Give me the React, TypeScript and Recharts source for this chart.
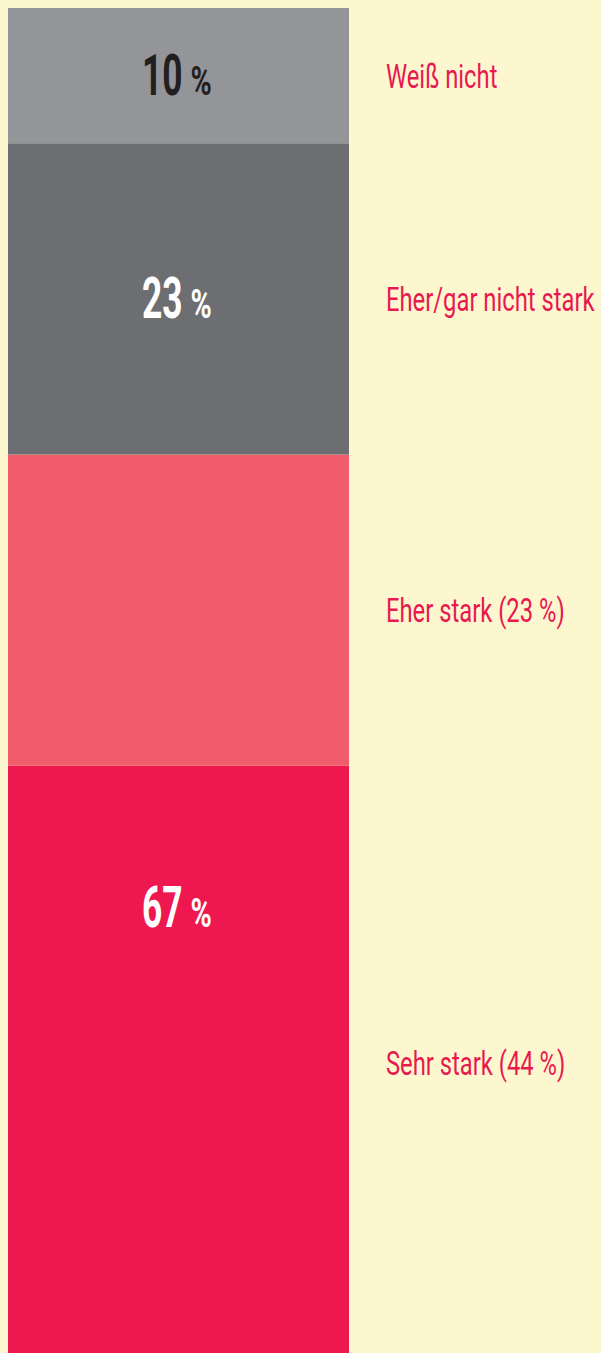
import { BarChart, Bar, XAxis, YAxis, LabelList } from 'recharts';

// segments, bottom to top
const segmentKeys = ['sehr', 'eher', 'nicht', 'weiss'];
const segmentLabels = ['Sehr stark (44 %)', 'Eher stark (23 %)', 'Eher/gar nicht stark', 'Weiß nicht'];
const segmentValues = [44, 23, 23, 10];
const segmentColors = ['#ee174f', '#f05c6b', '#6d6e72', '#949598'];

// big numbers inside the bar, bottom to top
const totalKeys = ['tStark', 'tNicht', 'tWeiss'];
const totalLabels = ['67', '23', '10'];
const totalValues = [67, 23, 10];
const totalColors = ['#ffffff', '#ffffff', '#231f20'];

const FONT = 'Roboto, sans-serif';
const RED = '#e8194f';

const row: { [key: string]: string | number } = { name: 'Stärke' };
segmentKeys.forEach((k, i) => {
  row[k] = segmentValues[i];
});
totalKeys.forEach((k, i) => {
  row[k] = totalValues[i];
});
const chartData = [row];

// text drawn narrow, the original uses a condensed DIN-like face
const SideLabel = (text: string) => (props: any) => {
  const { x, y, width, height } = props;
  const tx = Number(x) + Number(width) + 37;
  const ty = Number(y) + Number(height) / 2 + 12;
  return (
    <text
      transform={`translate(${tx},${ty}) scale(0.7,1)`}
      x={0}
      y={0}
      fill={RED}
      fontFamily={FONT}
      fontSize={34}
    >
      {text}
    </text>
  );
};

const BigLabel = (text: string, color: string) => (props: any) => {
  const { x, y, width, height } = props;
  const cx = Number(x) + Number(width) / 2;
  const base = Number(y) + Number(height) / 2 + 19;
  return (
    <g fill={color} fontFamily={FONT} fontWeight="bold">
      <text transform={`translate(${cx + 4},${base}) scale(0.62,1)`} textAnchor="end" fontSize={57}>
        {text}
      </text>
      <text transform={`translate(${cx + 12},${base}) scale(0.72,1)`} textAnchor="start" fontSize={40}>
        %
      </text>
    </g>
  );
};

export default function App() {
  return (
    <div style={{ width: 601, height: 1353, background: '#fdf7d0' }}>
      <style>{'body{margin:0;background:#fdf7d0}'}</style>
      <BarChart
        width={601}
        height={1353}
        data={chartData}
        margin={{ top: 8, right: 252, left: 8, bottom: -8 }}
        barCategoryGap={0}
      >
        <XAxis dataKey="name" hide />
        <XAxis dataKey="name" xAxisId="t" hide />
        <YAxis hide domain={[0, 100]} />
        {segmentKeys.map((k, i) => (
          <Bar key={k} dataKey={k} stackId="a" fill={segmentColors[i]} isAnimationActive={false}>
            <LabelList dataKey={k} content={SideLabel(segmentLabels[i])} />
          </Bar>
        ))}
        {totalKeys.map((k, i) => (
          <Bar
            key={k}
            dataKey={k}
            xAxisId="t"
            stackId="t"
            fill="none"
            fillOpacity={0}
            isAnimationActive={false}
          >
            <LabelList dataKey={k} content={BigLabel(totalLabels[i], totalColors[i])} />
          </Bar>
        ))}
      </BarChart>
    </div>
  );
}
